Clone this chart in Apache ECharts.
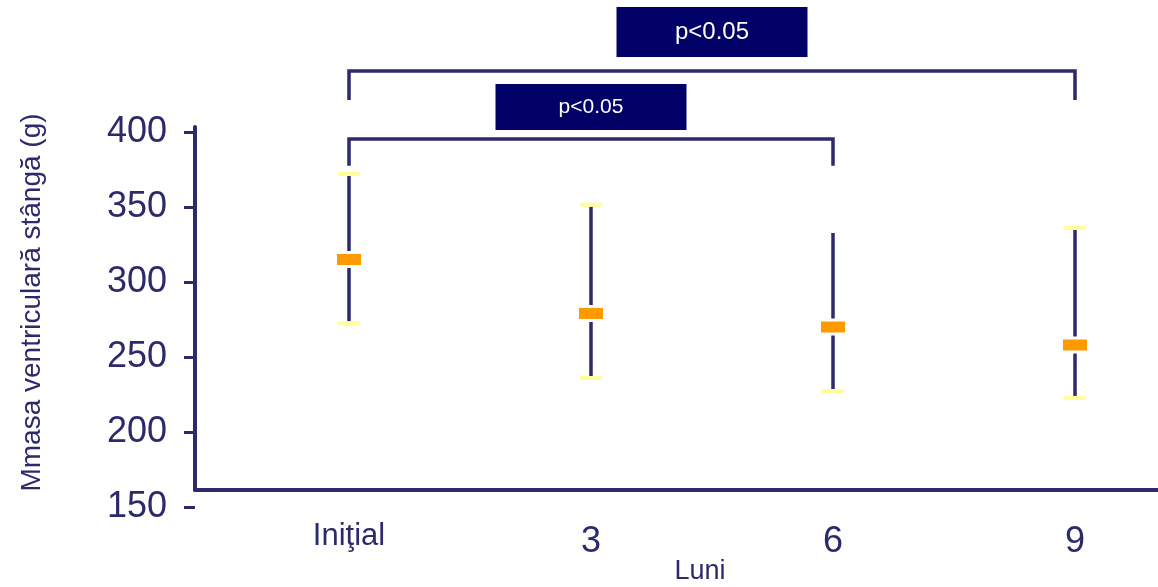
<!DOCTYPE html>
<html>
<head>
<meta charset="utf-8">
<script src="https://cdn.jsdelivr.net/npm/echarts@6/dist/echarts.min.js"></script>
<style>
html,body{margin:0;padding:0;background:#fff;}
#chart{width:1158px;height:587px;}
</style>
</head>
<body>
<div id="chart"></div>
<script>
// ---- data ----
var categories = ['Iniţial', '3', '6', '9'];
var means = [315, 279, 270, 258];
var lows = [272.5, 236, 227.3, 222.7];
var highs = [372, 351.5, 334, 336];
var upperCap = [true, true, false, true];
var yTicks = [150, 200, 250, 300, 350, 400];
// brackets: [fromIndex, toIndex, lineValue, endValue]
var brackets = [[0, 3, 440.7, 421.3], [0, 2, 395.3, 377.5]];
// significance labels: [xPosition, yValue, text]
var sigLabels = [[1.5, 466.7, 'p<0.05'], [1, 416.7, 'p<0.05']];
var yAxisName = 'Mmasa ventriculară stângă (g)';
var xAxisName = 'Luni';

var NAVY = '#2d2a6c';
var FONT = 'Liberation Sans, Arial, sans-serif';

var chart = echarts.init(document.getElementById('chart'));

var errData = categories.map(function (c, i) { return [i, means[i], lows[i], highs[i], upperCap[i] ? 1 : 0]; });

// coordinate for a possibly fractional category position
function fcoord(api, x, y) {
  var f = Math.floor(x), c = Math.ceil(x), t = x - f;
  var a = api.coord([f, y]), b = api.coord([c, y]);
  return [a[0] + (b[0] - a[0]) * t, a[1]];
}

chart.setOption({
  animation: false,
  grid: [
    {left: 349, right: 83, top: 132, bottom: 80, containLabel: false, outerBoundsMode: 'none'},
    {left: 195, right: 0, top: 127, bottom: 97, containLabel: false, outerBoundsMode: 'none'}
  ],
  xAxis: [
    {
      gridIndex: 0, type: 'category', data: categories, boundaryGap: false,
      axisLine: {show: false}, axisTick: {show: false}, splitLine: {show: false},
      axisLabel: {
        margin: 13, color: NAVY, fontFamily: FONT,
        formatter: function (v, i) { return i === 0 ? '{a|' + v + '}' : '{b|' + v + '}'; },
        rich: {
          a: {fontSize: 31, lineHeight: 32, color: NAVY, fontFamily: FONT},
          b: {fontSize: 36, lineHeight: 44, color: NAVY, fontFamily: FONT}
        }
      },
      name: xAxisName, nameLocation: 'middle', nameGap: 51, nameMoveOverlap: false,
      nameTextStyle: {fontSize: 27, lineHeight: 28, color: NAVY, fontFamily: FONT, padding: [0, 24, 0, 0]}
    },
    {
      gridIndex: 1, type: 'value', min: 0, max: 1,
      axisLine: {show: true, lineStyle: {color: NAVY, width: 4}},
      axisTick: {show: false}, axisLabel: {show: false}, splitLine: {show: false}
    }
  ],
  yAxis: [
    {
      gridIndex: 0, type: 'value', min: 150, max: 400, interval: 50, offset: 154,
      axisLine: {show: false},
      axisTick: {show: true, length: 11, lineStyle: {color: NAVY, width: 3}},
      axisLabel: {margin: 28, fontSize: 36, color: NAVY, fontFamily: FONT},
      splitLine: {show: false}
    },
    {
      gridIndex: 1, type: 'value', min: 0, max: 1,
      axisLine: {show: true, lineStyle: {color: NAVY, width: 4}},
      axisTick: {show: false}, axisLabel: {show: false}, splitLine: {show: false},
      name: yAxisName, nameLocation: 'middle', nameGap: 149, nameRotate: 90, nameMoveOverlap: false,
      nameTextStyle: {fontSize: 28, color: NAVY, fontFamily: FONT, padding: [0, 0, 0, 12]}
    }
  ],
  series: [
    {
      type: 'custom', xAxisIndex: 0, yAxisIndex: 0, clip: false,
      data: errData,
      renderItem: function (params, api) {
        var i = api.value(0);
        var m = api.coord([i, api.value(1)]);
        var lo = api.coord([i, api.value(2)]);
        var hi = api.coord([i, api.value(3)]);
        var cap = api.value(4);
        var x = m[0];
        var ls = {stroke: NAVY, lineWidth: 3.5};
        var ch = [
          {type: 'line', shape: {x1: x, y1: hi[1] + 2, x2: x, y2: m[1] - 8.5}, style: ls},
          {type: 'line', shape: {x1: x, y1: m[1] + 8.5, x2: x, y2: lo[1] - 2}, style: ls},
          {type: 'rect', shape: {x: x - 12, y: m[1] - 5.5, width: 24, height: 11}, style: {fill: '#ff9900'}},
          {type: 'rect', shape: {x: x - 11, y: lo[1] - 2, width: 22, height: 4}, style: {fill: '#ffff99'}}
        ];
        if (cap) ch.push({type: 'rect', shape: {x: x - 11, y: hi[1] - 2, width: 22, height: 4}, style: {fill: '#ffff99'}});
        return {type: 'group', children: ch};
      }
    },
    {
      type: 'custom', xAxisIndex: 0, yAxisIndex: 0, clip: false,
      data: brackets,
      renderItem: function (params, api) {
        var a = api.coord([api.value(0), api.value(2)]);
        var b = api.coord([api.value(1), api.value(2)]);
        var ae = api.coord([api.value(0), api.value(3)]);
        var be = api.coord([api.value(1), api.value(3)]);
        return {
          type: 'polyline',
          shape: {points: [[ae[0], ae[1]], [a[0], a[1]], [b[0], b[1]], [be[0], be[1]]]},
          style: {stroke: NAVY, lineWidth: 3.5, fill: null}
        };
      }
    },
    {
      type: 'custom', xAxisIndex: 0, yAxisIndex: 0, clip: false,
      data: sigLabels.map(function (d) { return [d[0], d[1]]; }),
      renderItem: function (params, api) {
        var idx = params.dataIndex;
        var p = fcoord(api, sigLabels[idx][0], sigLabels[idx][1]);
        var w = 191, h = idx === 0 ? 50 : 46, fs = idx === 0 ? 24 : 21;
        return {
          type: 'group',
          children: [
            {type: 'rect', shape: {x: p[0] - w / 2, y: p[1] - h / 2, width: w, height: h}, style: {fill: '#000066'}},
            {type: 'text', x: p[0], y: p[1], style: {text: sigLabels[idx][2], fill: '#ffffff', fontSize: fs, fontFamily: FONT, align: 'center', verticalAlign: 'middle'}}
          ]
        };
      }
    }
  ]
});
</script>
</body>
</html>
